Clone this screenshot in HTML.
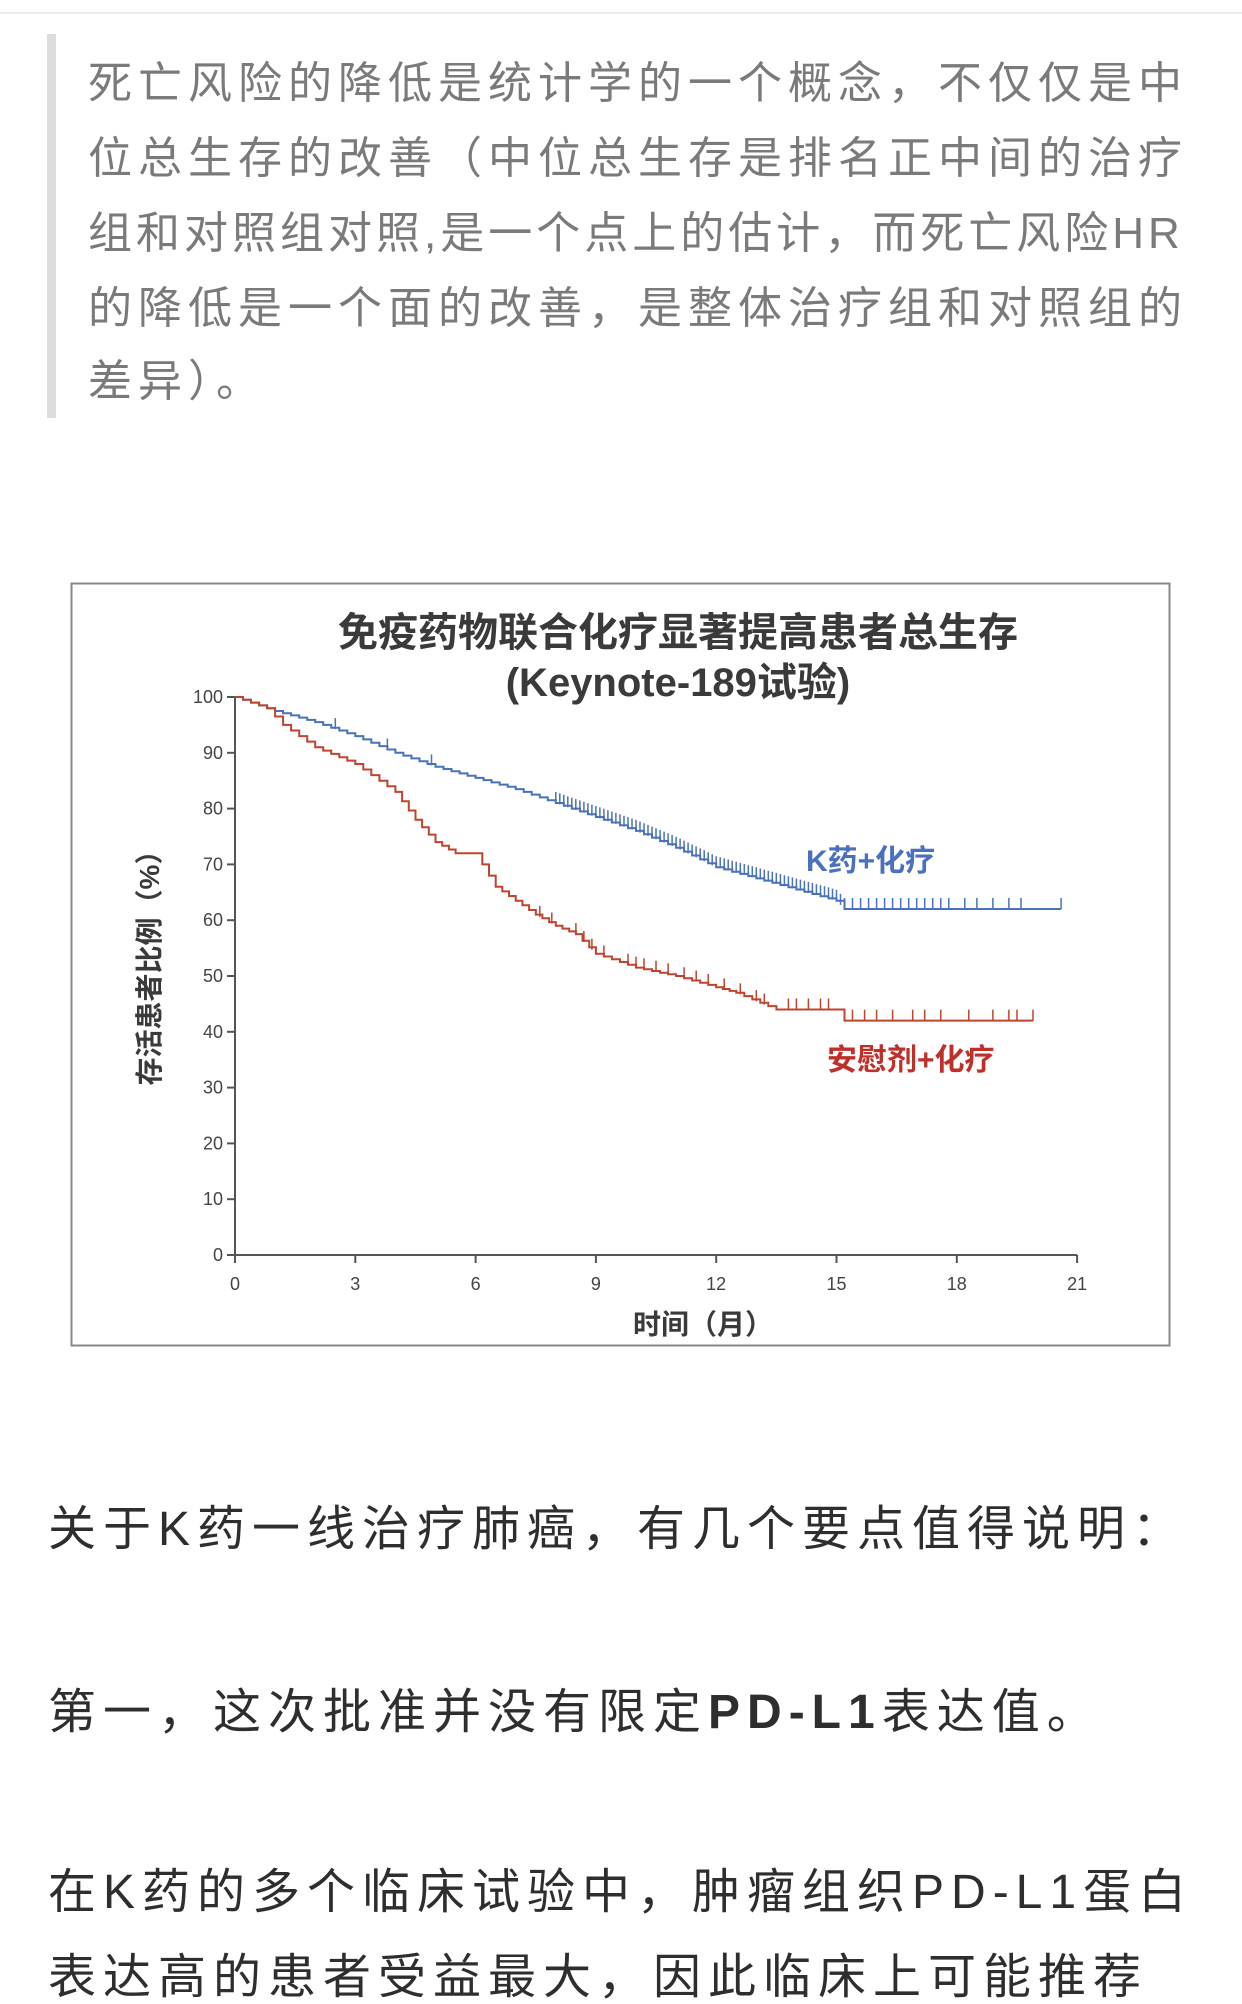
<!DOCTYPE html>
<html><head><meta charset="utf-8">
<style>
html,body{margin:0;padding:0;background:#fff;}
body{width:1242px;height:1998px;position:relative;overflow:hidden;font-family:"Liberation Sans","Noto Sans CJK SC",sans-serif;}
.topline{position:absolute;left:0;top:12px;width:1242px;height:2px;background:#ececec;}
.bar{position:absolute;left:47px;top:34px;width:9px;height:384px;background:#dcdcdc;}
.q{position:absolute;left:88px;font-size:44px;color:#7a7a7a;letter-spacing:6px;white-space:nowrap;line-height:1;}
.p{position:absolute;left:48px;font-size:48px;color:#2e2e2e;letter-spacing:7px;white-space:nowrap;line-height:1;}
</style></head><body>
<div class="topline"></div>
<div class="bar"></div>
<div class="q" style="top:62px">死亡风险的降低是统计学的一个概念，不仅仅是中</div>
<div class="q" style="top:137px">位总生存的改善（中位总生存是排名正中间的治疗</div>
<div class="q" style="top:212px;letter-spacing:4px">组和对照组对照,是一个点上的估计，而死亡风险HR</div>
<div class="q" style="top:287px">的降低是一个面的改善，是整体治疗组和对照组的</div>
<div class="q" style="top:360px">差异）。</div>

<svg style="position:absolute;left:0;top:0" width="1242" height="1998" xmlns="http://www.w3.org/2000/svg">
<rect x="71.5" y="583.5" width="1098" height="762" fill="#fff" stroke="#888" stroke-width="2"/>
<g font-family="Liberation Sans,Noto Sans CJK SC,sans-serif" font-weight="bold" fill="#3a3a3a" text-anchor="middle">
<text x="678" y="646" font-size="40">免疫药物联合化疗显著提高患者总生存</text>
<text x="678" y="696" font-size="40">(Keynote-189试验)</text>
<text x="703" y="1334" font-size="28">时间（月）</text>
<text transform="translate(159,961) rotate(-90)" font-size="28">存活患者比例（%）</text>
</g>
<text x="806" y="871" font-size="30" font-weight="bold" fill="#4a70be" font-family="Liberation Sans,Noto Sans CJK SC,sans-serif">K药+化疗</text>
<text x="827" y="1070" font-size="30" font-weight="bold" fill="#c0302a" font-family="Liberation Sans,Noto Sans CJK SC,sans-serif">安慰剂+化疗</text>
<g id="axes" stroke="#555" stroke-width="2" fill="none"></g>
<g id="labels" font-family="Liberation Sans,sans-serif" font-size="18" fill="#444"></g>
<g id="curves" fill="none" stroke-width="2"></g>
</svg>

<div class="p" style="top:1506px">关于K药一线治疗肺癌，有几个要点值得说明：</div>
<div class="p" style="top:1689px">第一，这次批准并没有限定<b>PD-L1</b>表达值。</div>
<div class="p" style="top:1869px">在K药的多个临床试验中，肿瘤组织PD-L1蛋白</div>
<div class="p" style="top:1954px">表达高的患者受益最大，因此临床上可能推荐</div>

<script>
var NS="http://www.w3.org/2000/svg";
function X(m){return 235+40.1*m;}
function Y(p){return 1255-5.58*p;}
function el(t,a,parent,txt){var e=document.createElementNS(NS,t);for(var k in a)e.setAttribute(k,a[k]);if(txt!==undefined)e.textContent=txt;document.getElementById(parent).appendChild(e);return e;}
el('path',{d:'M235 '+Y(100)+' V1255 H'+X(21)},'axes');
for(var i=0;i<=10;i++){var y=Y(i*10);el('path',{d:'M227 '+y+' H235'},'axes');el('text',{x:223,y:y+6,'text-anchor':'end'},'labels',String(i*10));}
for(var j=0;j<=7;j++){var x=X(j*3);el('path',{d:'M'+x+' 1255 V1263'},'axes');el('text',{x:x,y:1290,'text-anchor':'middle'},'labels',String(j*3));}
function curve(pts,color,ticks){
  var d='M'+X(pts[0][0])+' '+Y(pts[0][1]);
  for(var i=1;i<pts.length;i++){
    var a=pts[i-1],b=pts[i];
    var k=Math.max(1,Math.round((b[0]-a[0])*5));
    if(a[1]==b[1])k=1;
    for(var s=1;s<=k;s++){var m=a[0]+(b[0]-a[0])*s/k;
      d+=' H'+X(m).toFixed(1)+' V'+Y(a[1]+(b[1]-a[1])*s/k).toFixed(1);}
  }
  el('path',{d:d,stroke:color},'curves');
  var td='';
  function val(m){for(var i=1;i<pts.length;i++){if(m<=pts[i][0]){var a=pts[i-1],b=pts[i];return a[1]+(b[1]-a[1])*(m-a[0])/(b[0]-a[0]);}}return pts[pts.length-1][1];}
  for(var t=0;t<ticks.length;t++){var m=ticks[t];var yy=Y(val(m));td+='M'+X(m).toFixed(1)+' '+yy.toFixed(1)+' v-11 ';}
  el('path',{d:td,stroke:color,'stroke-width':1.5},'curves');
}
var blue=[[0,100],[1,97.5],[2,95.5],[3,93],[4,90],[5,87.5],[6,85.5],[7,83.5],[8,81],[9,78.5],[10,76],[11,73],[12,69.5],[13,67.5],[14,65.5],[15,63.5],[15.2,62],[20.6,62]];
var red=[[0,100],[0.8,98],[1.2,95],[2,91],[3,88],[4,83],[4.5,78],[5,74],[5.5,72],[6,72],[6.5,66],[7,63.5],[7.5,61],[8,59],[8.5,57.5],[9,54],[10,51.5],[11,50],[12,48],[12.5,47],[13.5,44],[15,44],[15.2,42],[19.9,42]];
var bt=[2.5,3.8,4.9];for(var m=8;m<15.2;m+=0.1)bt.push(m);
[15.4,15.6,15.8,16,16.2,16.4,16.6,16.8,17,17.2,17.4,17.6,17.8,18.2,18.5,18.9,19.3,19.6,20.6].forEach(function(v){bt.push(v);});
curve(blue,'#4a72b8',bt);
var rt=[7.6,7.9,8.5,8.7,8.9,9.2,9.8,10,10.2,10.5,10.8,11.2,11.5,11.8,12.2,12.6,13,13.2,13.8,14,14.3,14.6,14.8,15.4,15.7,16,16.4,16.9,17.2,17.6,18.3,18.9,19.3,19.5,19.9];
curve(red,'#c0432f',rt);
</script>
</body></html>
